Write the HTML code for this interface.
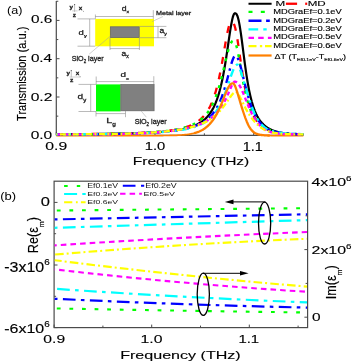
<!DOCTYPE html>
<html><head><meta charset="utf-8"><style>
html,body{margin:0;padding:0;background:#fff;width:352px;height:361px;overflow:hidden}
svg{display:block;filter:blur(0.35px);font-family:"Liberation Sans", sans-serif}
</style></head><body>
<svg width="352" height="361" viewBox="0 0 352 361">
<rect width="352" height="361" fill="#fff"/>
<line x1="56.30" y1="1.00" x2="56.30" y2="135.30" stroke="#4a4a4a" stroke-width="1.2" stroke-linecap="butt"/>
<line x1="56.30" y1="135.30" x2="303.30" y2="135.30" stroke="#4a4a4a" stroke-width="1.2" stroke-linecap="butt"/>
<line x1="56.30" y1="135.30" x2="59.50" y2="135.30" stroke="#4a4a4a" stroke-width="1" stroke-linecap="butt"/>
<line x1="56.30" y1="116.15" x2="58.30" y2="116.15" stroke="#4a4a4a" stroke-width="1" stroke-linecap="butt"/>
<line x1="56.30" y1="97.00" x2="59.50" y2="97.00" stroke="#4a4a4a" stroke-width="1" stroke-linecap="butt"/>
<line x1="56.30" y1="77.85" x2="58.30" y2="77.85" stroke="#4a4a4a" stroke-width="1" stroke-linecap="butt"/>
<line x1="56.30" y1="58.70" x2="59.50" y2="58.70" stroke="#4a4a4a" stroke-width="1" stroke-linecap="butt"/>
<line x1="56.30" y1="39.55" x2="58.30" y2="39.55" stroke="#4a4a4a" stroke-width="1" stroke-linecap="butt"/>
<line x1="56.30" y1="20.40" x2="59.50" y2="20.40" stroke="#4a4a4a" stroke-width="1" stroke-linecap="butt"/>
<line x1="56.30" y1="1.25" x2="58.30" y2="1.25" stroke="#4a4a4a" stroke-width="1" stroke-linecap="butt"/>
<line x1="56.30" y1="135.30" x2="56.30" y2="132.10" stroke="#4a4a4a" stroke-width="1" stroke-linecap="butt"/>
<line x1="105.65" y1="135.30" x2="105.65" y2="133.30" stroke="#4a4a4a" stroke-width="1" stroke-linecap="butt"/>
<line x1="155.00" y1="135.30" x2="155.00" y2="132.10" stroke="#4a4a4a" stroke-width="1" stroke-linecap="butt"/>
<line x1="204.35" y1="135.30" x2="204.35" y2="133.30" stroke="#4a4a4a" stroke-width="1" stroke-linecap="butt"/>
<line x1="253.70" y1="135.30" x2="253.70" y2="132.10" stroke="#4a4a4a" stroke-width="1" stroke-linecap="butt"/>
<line x1="303.05" y1="135.30" x2="303.05" y2="133.30" stroke="#4a4a4a" stroke-width="1" stroke-linecap="butt"/>
<rect x="95.20" y="18.90" width="58.80" height="27.40" fill="#ffff00"/>
<rect x="110.3" y="26.8" width="28.9" height="10.8" fill="#808080" stroke="#606068" stroke-width="0.7"/>
<line x1="95.20" y1="16.50" x2="153.40" y2="16.50" stroke="#8c8c8c" stroke-width="0.6" stroke-linecap="butt"/>
<line x1="95.40" y1="14.50" x2="95.40" y2="18.90" stroke="#8c8c8c" stroke-width="0.6" stroke-linecap="butt"/>
<line x1="153.30" y1="10.10" x2="153.30" y2="18.90" stroke="#8c8c8c" stroke-width="0.6" stroke-linecap="butt"/>
<line x1="89.70" y1="18.90" x2="89.70" y2="46.20" stroke="#8c8c8c" stroke-width="0.6" stroke-linecap="butt"/>
<line x1="77.50" y1="18.90" x2="95.20" y2="18.90" stroke="#8c8c8c" stroke-width="0.6" stroke-linecap="butt"/>
<line x1="77.50" y1="46.20" x2="95.20" y2="46.20" stroke="#8c8c8c" stroke-width="0.6" stroke-linecap="butt"/>
<line x1="139.40" y1="26.40" x2="166.40" y2="26.40" stroke="#8c8c8c" stroke-width="0.6" stroke-linecap="butt"/>
<line x1="139.40" y1="37.70" x2="166.40" y2="37.70" stroke="#8c8c8c" stroke-width="0.6" stroke-linecap="butt"/>
<line x1="158.00" y1="26.40" x2="158.00" y2="37.70" stroke="#8c8c8c" stroke-width="0.6" stroke-linecap="butt"/>
<line x1="110.00" y1="37.70" x2="110.00" y2="50.00" stroke="#8c8c8c" stroke-width="0.6" stroke-linecap="butt"/>
<line x1="139.40" y1="37.70" x2="139.40" y2="50.00" stroke="#8c8c8c" stroke-width="0.6" stroke-linecap="butt"/>
<line x1="110.00" y1="48.60" x2="139.40" y2="48.60" stroke="#8c8c8c" stroke-width="0.6" stroke-linecap="butt"/>
<line x1="163.00" y1="16.50" x2="152.00" y2="21.60" stroke="#a0a0a0" stroke-width="0.5" stroke-linecap="butt"/>
<line x1="89.20" y1="54.10" x2="110.50" y2="36.00" stroke="#a0a0a0" stroke-width="0.5" stroke-linecap="butt"/>
<rect x="96.00" y="84.40" width="24.60" height="27.00" fill="#00ff00"/>
<rect x="120.8" y="84.6" width="33.3" height="26.2" fill="#808080" stroke="#606060" stroke-width="0.7"/>
<line x1="96.00" y1="81.60" x2="154.00" y2="81.60" stroke="#8c8c8c" stroke-width="0.6" stroke-linecap="butt"/>
<line x1="96.20" y1="76.50" x2="96.20" y2="84.40" stroke="#8c8c8c" stroke-width="0.6" stroke-linecap="butt"/>
<line x1="153.80" y1="76.20" x2="153.80" y2="84.40" stroke="#8c8c8c" stroke-width="0.6" stroke-linecap="butt"/>
<line x1="90.70" y1="84.40" x2="90.70" y2="111.50" stroke="#8c8c8c" stroke-width="0.6" stroke-linecap="butt"/>
<line x1="78.50" y1="84.40" x2="96.00" y2="84.40" stroke="#8c8c8c" stroke-width="0.6" stroke-linecap="butt"/>
<line x1="78.50" y1="111.50" x2="96.00" y2="111.50" stroke="#8c8c8c" stroke-width="0.6" stroke-linecap="butt"/>
<line x1="96.00" y1="111.50" x2="96.00" y2="116.50" stroke="#8c8c8c" stroke-width="0.6" stroke-linecap="butt"/>
<line x1="96.00" y1="113.60" x2="125.50" y2="113.60" stroke="#8c8c8c" stroke-width="0.6" stroke-linecap="butt"/>
<line x1="125.50" y1="110.80" x2="125.50" y2="117.20" stroke="#8c8c8c" stroke-width="0.6" stroke-linecap="butt"/>
<line x1="141.00" y1="110.80" x2="146.40" y2="117.20" stroke="#a0a0a0" stroke-width="0.5" stroke-linecap="butt"/>
<text transform="translate(121.75,10.74) scale(0.0864,0.0636)" font-size="100" fill="#1e1e1e" stroke="#1e1e1e" stroke-width="4.00">d<tspan font-size="60" dy="34">x</tspan></text>
<text transform="translate(78.62,34.82) scale(0.0951,0.0647)" font-size="100" fill="#1e1e1e" stroke="#1e1e1e" stroke-width="3.76">d<tspan font-size="60" dy="34">y</tspan></text>
<text transform="translate(159.55,32.78) scale(0.0864,0.0700)" font-size="100" fill="#1e1e1e" stroke="#1e1e1e" stroke-width="3.84">a<tspan font-size="60" dy="34">y</tspan></text>
<text transform="translate(121.56,55.71) scale(0.0852,0.0761)" font-size="100" fill="#1e1e1e" stroke="#1e1e1e" stroke-width="3.72">a<tspan font-size="60" dy="34">x</tspan></text>
<text transform="translate(120.40,77.26) scale(0.0988,0.0687)" font-size="100" fill="#1e1e1e" stroke="#1e1e1e" stroke-width="3.58">d<tspan font-size="60" dy="34">x</tspan></text>
<text transform="translate(77.50,99.32) scale(0.1012,0.0756)" font-size="100" fill="#1e1e1e" stroke="#1e1e1e" stroke-width="3.39">d<tspan font-size="60" dy="34">y</tspan></text>
<text transform="translate(106.13,122.86) scale(0.1084,0.0791)" font-size="100" fill="#1e1e1e" stroke="#1e1e1e" stroke-width="3.20">L<tspan font-size="60" dy="34">g</tspan></text>
<text transform="translate(156.12,14.85) scale(0.0720,0.0596)" font-size="100" fill="#1e1e1e" stroke="#1e1e1e" stroke-width="4.56">Metal layer</text>
<text transform="translate(71.74,61.19) scale(0.0715,0.0724)" font-size="100" fill="#1e1e1e" stroke="#1e1e1e" stroke-width="4.17">SiO<tspan font-size="62" dy="25">2</tspan><tspan dy="-25"> layer</tspan></text>
<text transform="translate(134.64,124.16) scale(0.0718,0.0735)" font-size="100" fill="#1e1e1e" stroke="#1e1e1e" stroke-width="4.13">SiO<tspan font-size="62" dy="25">2</tspan><tspan dy="-25"> layer</tspan></text>
<line x1="74.60" y1="4.10" x2="74.60" y2="11.90" stroke="#b0b0b0" stroke-width="0.8" stroke-linecap="butt"/>
<line x1="72.20" y1="10.90" x2="77.60" y2="10.90" stroke="#b0b0b0" stroke-width="0.6" stroke-linecap="butt"/>
<line x1="71.25" y1="70.10" x2="71.25" y2="77.30" stroke="#b0b0b0" stroke-width="0.8" stroke-linecap="butt"/>
<line x1="69.50" y1="77.00" x2="80.40" y2="77.00" stroke="#b0b0b0" stroke-width="0.6" stroke-linecap="butt"/>
<circle cx="74.6" cy="4.6" r="0.6" fill="#555"/><circle cx="71.25" cy="70.6" r="0.6" fill="#555"/>
<circle cx="83.4" cy="11.2" r="0.45" fill="#555"/><circle cx="80.1" cy="76.8" r="0.45" fill="#555"/>
<text transform="translate(69.44,9.44) scale(0.0630,0.0554)" font-size="100" fill="#1e1e1e" stroke="#1e1e1e" stroke-width="5.07"><tspan font-weight="bold">y</tspan></text>
<text transform="translate(78.64,9.90) scale(0.0630,0.0585)" font-size="100" fill="#1e1e1e" stroke="#1e1e1e" stroke-width="4.94"><tspan font-weight="bold">x</tspan></text>
<text transform="translate(72.64,16.70) scale(0.0643,0.0509)" font-size="100" fill="#1e1e1e" stroke="#1e1e1e" stroke-width="5.21"><tspan font-weight="bold">z</tspan></text>
<text transform="translate(66.44,74.52) scale(0.0630,0.0514)" font-size="100" fill="#1e1e1e" stroke="#1e1e1e" stroke-width="5.25"><tspan font-weight="bold">y</tspan></text>
<text transform="translate(75.64,75.20) scale(0.0630,0.0509)" font-size="100" fill="#1e1e1e" stroke="#1e1e1e" stroke-width="5.27"><tspan font-weight="bold">x</tspan></text>
<text transform="translate(69.93,82.00) scale(0.0667,0.0566)" font-size="100" fill="#1e1e1e" stroke="#1e1e1e" stroke-width="4.87"><tspan font-weight="bold">z</tspan></text>
<path d="M56.3,135.7 L58.3,135.7 L60.3,135.7 L62.3,135.7 L64.3,135.7 L66.3,135.7 L68.3,135.7 L70.3,135.7 L72.3,135.7 L74.3,135.7 L76.3,135.7 L78.3,135.7 L80.3,135.7 L82.3,135.7 L84.3,135.7 L86.3,135.7 L88.3,135.7 L90.3,135.7 L92.3,135.7 L94.3,135.7 L96.3,135.7 L98.3,135.7 L100.3,135.7 L102.3,135.7 L104.3,135.7 L106.3,135.7 L108.3,135.7 L110.3,135.7 L112.3,135.7 L114.3,135.7 L116.3,135.7 L118.3,135.7 L120.3,135.7 L122.3,135.7 L124.3,135.7 L126.3,135.7 L128.3,135.7 L130.3,135.7 L132.3,135.7 L134.3,135.7 L136.3,135.7 L138.3,135.7 L140.3,135.7 L142.3,135.7 L144.3,135.7 L146.3,135.7 L148.3,135.7 L150.3,135.6 L152.3,135.6 L154.3,135.6 L156.3,135.6 L158.3,135.6 L160.3,135.6 L162.3,135.6 L164.3,135.5 L166.3,135.5 L168.3,135.5 L170.3,135.4 L172.3,135.4 L174.3,135.3 L176.3,135.3 L178.3,135.2 L180.3,135.1 L180.8,135.0 L181.3,135.0 L181.8,135.0 L182.3,134.9 L182.8,134.9 L183.3,134.9 L183.8,134.8 L184.3,134.8 L184.8,134.7 L185.3,134.7 L185.8,134.6 L186.3,134.6 L186.8,134.5 L187.3,134.5 L187.8,134.4 L188.3,134.3 L188.8,134.3 L189.3,134.2 L189.8,134.1 L190.3,134.0 L190.8,133.9 L191.3,133.8 L191.8,133.7 L192.3,133.6 L192.8,133.5 L193.3,133.4 L193.8,133.3 L194.3,133.2 L194.8,133.0 L195.3,132.9 L195.8,132.7" fill="none" stroke="#ff8000" stroke-width="1.7" stroke-linecap="butt" stroke-linejoin="round"/>
<path d="M268.3,135.5 L268.8,135.5 L269.3,135.5 L269.8,135.5 L270.3,135.5 L270.8,135.6 L271.3,135.6 L271.8,135.6 L272.3,135.6 L272.8,135.6 L273.3,135.6 L273.8,135.6 L274.3,135.6 L274.8,135.6 L275.3,135.6 L275.8,135.6 L276.3,135.6 L276.8,135.6 L277.3,135.6 L277.8,135.6 L278.3,135.6 L278.8,135.7 L279.3,135.7 L279.8,135.7 L280.3,135.7 L280.8,135.7 L281.3,135.7 L281.8,135.7 L282.3,135.7 L282.8,135.7 L283.3,135.7 L283.8,135.7 L284.3,135.7 L284.8,135.7 L285.3,135.7 L287.3,135.7 L289.3,135.7 L291.3,135.7 L293.3,135.7 L295.3,135.7 L297.3,135.7 L299.3,135.7 L301.3,135.7 L303.3,135.7" fill="none" stroke="#ff8000" stroke-width="1.7" stroke-linecap="butt" stroke-linejoin="round"/>
<path d="M56.3,134.3 L58.3,134.3 L60.3,134.3 L62.3,134.3 L64.3,134.2 L66.3,134.2 L68.3,134.2 L70.3,134.2 L72.3,134.2 L74.3,134.2 L76.3,134.2 L78.3,134.1 L80.3,134.1 L82.3,134.1 L84.3,134.1 L86.3,134.1 L88.3,134.0 L90.3,134.0 L92.3,134.0 L94.3,134.0 L96.3,134.0 L98.3,133.9 L100.3,133.9 L102.3,133.9 L104.3,133.9 L106.3,133.8 L108.3,133.8 L110.3,133.8 L112.3,133.7 L114.3,133.7 L116.3,133.7 L118.3,133.6 L120.3,133.6 L122.3,133.5 L124.3,133.5 L126.3,133.4 L128.3,133.4 L130.3,133.3 L132.3,133.3 L134.3,133.2 L136.3,133.2 L138.3,133.1 L140.3,133.0 L142.3,132.9 L144.3,132.9 L146.3,132.8 L148.3,132.7 L150.3,132.6 L152.3,132.5 L154.3,132.4 L156.3,132.2 L158.3,132.1 L160.3,132.0 L162.3,131.8 L164.3,131.6 L166.3,131.5 L168.3,131.3 L170.3,131.0 L172.3,130.8 L174.3,130.5 L176.3,130.3 L178.3,129.9 L180.3,129.6 L180.8,129.5 L181.3,129.4 L181.8,129.3 L182.3,129.2 L182.8,129.1 L183.3,129.0 L183.8,128.9 L184.3,128.8 L184.8,128.7 L185.3,128.6 L185.8,128.4 L186.3,128.3 L186.8,128.2 L187.3,128.1 L187.8,127.9 L188.3,127.8 L188.8,127.6 L189.3,127.5 L189.8,127.3 L190.3,127.2 L190.8,127.0 L191.3,126.9 L191.8,126.7 L192.3,126.5 L192.8,126.3 L193.3,126.1 L193.8,125.9 L194.3,125.7 L194.8,125.5 L195.3,125.3 L195.8,125.1 L196.3,124.9 L196.8,124.6 L197.3,124.4 L197.8,124.1 L198.3,123.8 L198.8,123.6 L199.3,123.3 L199.8,123.0 L200.3,122.7 L200.8,122.4 L201.3,122.0 L201.8,121.7 L202.3,121.3 L202.8,120.9 L203.3,120.6 L203.8,120.1 L204.3,119.7 L204.8,119.3 L205.3,118.8 L205.8,118.4 L206.3,117.9 L206.8,117.3 L207.3,116.8 L207.8,116.2 L208.3,115.6 L208.8,115.0 L209.3,114.4 L209.8,113.7 L210.3,113.0 L210.8,112.2 L211.3,111.5 L211.8,110.7 L212.3,109.8 L212.8,108.9 L213.3,108.0 L213.8,107.0 L214.3,105.9 L214.8,104.8 L215.3,103.7 L215.8,102.5 L216.3,101.2 L216.8,99.9 L217.3,98.5 L217.8,97.0 L218.3,95.4 L218.8,93.8 L219.3,92.1 L219.8,90.3 L220.3,88.3 L220.8,86.3 L221.3,84.2 L221.8,82.0 L222.3,79.7 L222.8,77.2 L223.3,74.7 L223.8,72.0 L224.3,69.2 L224.8,66.3 L225.3,63.3 L225.8,60.2 L226.3,57.0 L226.8,53.7 L227.3,50.4 L227.8,47.0 L228.3,43.5 L228.8,40.1 L229.3,36.7 L229.8,33.4 L230.3,30.1 L230.8,27.1 L231.3,24.2 L231.8,21.6 L232.3,19.2 L232.8,17.2 L233.3,15.6 L233.8,14.4 L234.3,13.6 L234.8,13.3 L235.3,13.3 L235.8,13.5 L236.3,13.9 L236.8,14.7 L237.3,15.7 L237.8,17.2 L238.3,19.0 L238.8,21.1 L239.3,23.6 L239.8,26.5 L240.3,29.6 L240.8,32.9 L241.3,36.5 L241.8,40.2 L242.3,44.0 L242.8,47.9 L243.3,51.8 L243.8,55.7 L244.3,59.5 L244.8,63.3 L245.3,66.9 L245.8,70.4 L246.3,73.8 L246.8,77.1 L247.3,80.2 L247.8,83.1 L248.3,85.9 L248.8,88.6 L249.3,91.1 L249.8,93.5 L250.3,95.7 L250.8,97.8 L251.3,99.8 L251.8,101.7 L252.3,103.4 L252.8,105.1 L253.3,106.7 L253.8,108.1 L254.3,109.5 L254.8,110.8 L255.3,112.0 L255.8,113.1 L256.3,114.2 L256.8,115.2 L257.3,116.2 L257.8,117.1 L258.3,118.0 L258.8,118.8 L259.3,119.5 L259.8,120.3 L260.3,121.0 L260.8,121.6 L261.3,122.2 L261.8,122.8 L262.3,123.3 L262.8,123.9 L263.3,124.4 L263.8,124.8 L264.3,125.3 L264.8,125.7 L265.3,126.1 L265.8,126.5 L266.3,126.9 L266.8,127.2 L267.3,127.6 L267.8,127.9 L268.3,128.2 L268.8,128.5 L269.3,128.8 L269.8,129.0 L270.3,129.3 L270.8,129.5 L271.3,129.8 L271.8,130.0 L272.3,130.2 L272.8,130.4 L273.3,130.6 L273.8,130.8 L274.3,131.0 L274.8,131.1 L275.3,131.3 L275.8,131.5 L276.3,131.6 L276.8,131.7 L277.3,131.9 L277.8,132.0 L278.3,132.1 L278.8,132.2 L279.3,132.4 L279.8,132.5 L280.3,132.6 L280.8,132.7 L281.3,132.8 L281.8,132.9 L282.3,132.9 L282.8,133.0 L283.3,133.1 L283.8,133.2 L284.3,133.2 L284.8,133.3 L285.3,133.4 L287.3,133.6 L289.3,133.8 L291.3,134.0 L293.3,134.1 L295.3,134.2 L297.3,134.3 L299.3,134.4 L301.3,134.5 L303.3,134.5" fill="none" stroke="#000000" stroke-width="2.2" stroke-linecap="butt" stroke-linejoin="round"/>
<path d="M56.3,134.4 L58.3,134.3 L60.3,134.3 L62.3,134.3 L64.3,134.3 L66.3,134.3 L68.3,134.3 L70.3,134.3 L72.3,134.2 L74.3,134.2 L76.3,134.2 L78.3,134.2 L80.3,134.2 L82.3,134.2 L84.3,134.1 L86.3,134.1 L88.3,134.1 L90.3,134.1 L92.3,134.0 L94.3,134.0 L96.3,134.0 L98.3,134.0 L100.3,133.9 L102.3,133.9 L104.3,133.9 L106.3,133.8 L108.3,133.8 L110.3,133.8 L112.3,133.7 L114.3,133.7 L116.3,133.6 L118.3,133.6 L120.3,133.6 L122.3,133.5 L124.3,133.4 L126.3,133.4 L128.3,133.3 L130.3,133.3 L132.3,133.2 L134.3,133.1 L136.3,133.1 L138.3,133.0 L140.3,132.9 L142.3,132.8 L144.3,132.7 L146.3,132.6 L148.3,132.5 L150.3,132.4 L152.3,132.3 L154.3,132.1 L156.3,132.0 L158.3,131.8 L160.3,131.6 L162.3,131.4 L164.3,131.2 L166.3,131.0 L168.3,130.8 L170.3,130.5 L172.3,130.2 L174.3,129.9 L176.3,129.5 L178.3,129.1 L180.3,128.7 L180.8,128.6 L181.3,128.5 L181.8,128.3 L182.3,128.2 L182.8,128.1 L183.3,128.0 L183.8,127.8 L184.3,127.7 L184.8,127.5 L185.3,127.4 L185.8,127.2 L186.3,127.1 L186.8,126.9 L187.3,126.7 L187.8,126.5 L188.3,126.4 L188.8,126.2 L189.3,126.0 L189.8,125.8 L190.3,125.6 L190.8,125.4 L191.3,125.1 L191.8,124.9 L192.3,124.7 L192.8,124.4 L193.3,124.2 L193.8,123.9 L194.3,123.7 L194.8,123.4 L195.3,123.1 L195.8,122.8 L196.3,122.5 L196.8,122.1 L197.3,121.8 L197.8,121.5 L198.3,121.1 L198.8,120.7 L199.3,120.3 L199.8,119.9 L200.3,119.5 L200.8,119.1 L201.3,118.6 L201.8,118.1 L202.3,117.6 L202.8,117.1 L203.3,116.6 L203.8,116.0 L204.3,115.4 L204.8,114.8 L205.3,114.2 L205.8,113.5 L206.3,112.8 L206.8,112.1 L207.3,111.3 L207.8,110.5 L208.3,109.7 L208.8,108.8 L209.3,107.9 L209.8,107.0 L210.3,106.0 L210.8,104.9 L211.3,103.8 L211.8,102.7 L212.3,101.5 L212.8,100.2 L213.3,98.9 L213.8,97.5 L214.3,96.0 L214.8,94.5 L215.3,92.9 L215.8,91.2 L216.3,89.4 L216.8,87.6 L217.3,85.6 L217.8,83.6 L218.3,81.5 L218.8,79.3 L219.3,77.0 L219.8,74.6 L220.3,72.2 L220.8,69.6 L221.3,67.0 L221.8,64.2 L222.3,61.4 L222.8,58.6 L223.3,55.7 L223.8,52.8 L224.3,49.8 L224.8,46.9 L225.3,44.0 L225.8,41.1 L226.3,38.3 L226.8,35.6 L227.3,33.1 L227.8,30.8 L228.3,28.6 L228.8,26.7 L229.3,25.1 L229.8,23.8 L230.3,22.8 L230.8,22.1 L231.3,21.8 L231.8,21.8 L232.3,21.9 L232.8,22.2 L233.3,22.8 L233.8,23.7 L234.3,24.9 L234.8,26.5 L235.3,28.3 L235.8,30.5 L236.3,32.9 L236.8,35.6 L237.3,38.6 L237.8,41.7 L238.3,45.0 L238.8,48.4 L239.3,51.9 L239.8,55.4 L240.3,58.9 L240.8,62.3 L241.3,65.8 L241.8,69.1 L242.3,72.3 L242.8,75.5 L243.3,78.5 L243.8,81.4 L244.3,84.2 L244.8,86.8 L245.3,89.3 L245.8,91.7 L246.3,94.0 L246.8,96.1 L247.3,98.1 L247.8,100.1 L248.3,101.9 L248.8,103.6 L249.3,105.2 L249.8,106.7 L250.3,108.1 L250.8,109.4 L251.3,110.7 L251.8,111.9 L252.3,113.0 L252.8,114.1 L253.3,115.1 L253.8,116.1 L254.3,117.0 L254.8,117.8 L255.3,118.6 L255.8,119.4 L256.3,120.1 L256.8,120.8 L257.3,121.5 L257.8,122.1 L258.3,122.7 L258.8,123.2 L259.3,123.8 L259.8,124.3 L260.3,124.7 L260.8,125.2 L261.3,125.6 L261.8,126.0 L262.3,126.4 L262.8,126.8 L263.3,127.2 L263.8,127.5 L264.3,127.9 L264.8,128.2 L265.3,128.5 L265.8,128.7 L266.3,129.0 L266.8,129.3 L267.3,129.5 L267.8,129.8 L268.3,130.0 L268.8,130.2 L269.3,130.4 L269.8,130.6 L270.3,130.8 L270.8,131.0 L271.3,131.2 L271.8,131.3 L272.3,131.5 L272.8,131.6 L273.3,131.8 L273.8,131.9 L274.3,132.1 L274.8,132.2 L275.3,132.3 L275.8,132.4 L276.3,132.5 L276.8,132.6 L277.3,132.7 L277.8,132.8 L278.3,132.9 L278.8,133.0 L279.3,133.1 L279.8,133.2 L280.3,133.3 L280.8,133.3 L281.3,133.4 L281.8,133.5 L282.3,133.5 L282.8,133.6 L283.3,133.7 L283.8,133.7 L284.3,133.8 L284.8,133.8 L285.3,133.9 L287.3,134.0 L289.3,134.2 L291.3,134.3 L293.3,134.4 L295.3,134.5 L297.3,134.5 L299.3,134.6 L301.3,134.6 L303.3,134.7" fill="none" stroke="#ff0000" stroke-width="2.3" stroke-dasharray="7,8.7" stroke-dashoffset="12.46" stroke-linejoin="round"/>
<path d="M56.3,134.4 L58.3,134.4 L60.3,134.4 L62.3,134.4 L64.3,134.4 L66.3,134.4 L68.3,134.4 L70.3,134.4 L72.3,134.4 L74.3,134.3 L76.3,134.3 L78.3,134.3 L80.3,134.3 L82.3,134.3 L84.3,134.3 L86.3,134.3 L88.3,134.3 L90.3,134.2 L92.3,134.2 L94.3,134.2 L96.3,134.2 L98.3,134.2 L100.3,134.1 L102.3,134.1 L104.3,134.1 L106.3,134.0 L108.3,134.0 L110.3,134.0 L112.3,133.9 L114.3,133.9 L116.3,133.9 L118.3,133.8 L120.3,133.8 L122.3,133.7 L124.3,133.7 L126.3,133.6 L128.3,133.5 L130.3,133.5 L132.3,133.4 L134.3,133.3 L136.3,133.2 L138.3,133.1 L140.3,133.1 L142.3,133.0 L144.3,132.8 L146.3,132.7 L148.3,132.6 L150.3,132.5 L152.3,132.3 L154.3,132.2 L156.3,132.0 L158.3,131.8 L160.3,131.7 L162.3,131.5 L164.3,131.2 L166.3,131.0 L168.3,130.8 L170.3,130.5 L172.3,130.2 L174.3,129.8 L176.3,129.5 L178.3,129.1 L180.3,128.7 L180.8,128.5 L181.3,128.4 L181.8,128.3 L182.3,128.2 L182.8,128.0 L183.3,127.9 L183.8,127.8 L184.3,127.6 L184.8,127.5 L185.3,127.3 L185.8,127.2 L186.3,127.0 L186.8,126.9 L187.3,126.7 L187.8,126.5 L188.3,126.4 L188.8,126.2 L189.3,126.0 L189.8,125.8 L190.3,125.6 L190.8,125.4 L191.3,125.2 L191.8,125.0 L192.3,124.8 L192.8,124.6 L193.3,124.3 L193.8,124.1 L194.3,123.8 L194.8,123.6 L195.3,123.3 L195.8,123.0 L196.3,122.7 L196.8,122.4 L197.3,122.1 L197.8,121.8 L198.3,121.5 L198.8,121.2 L199.3,120.8 L199.8,120.4 L200.3,120.1 L200.8,119.7 L201.3,119.3 L201.8,118.8 L202.3,118.4 L202.8,117.9 L203.3,117.5 L203.8,117.0 L204.3,116.5 L204.8,115.9 L205.3,115.4 L205.8,114.8 L206.3,114.2 L206.8,113.6 L207.3,113.0 L207.8,112.3 L208.3,111.6 L208.8,110.9 L209.3,110.1 L209.8,109.3 L210.3,108.5 L210.8,107.6 L211.3,106.7 L211.8,105.8 L212.3,104.8 L212.8,103.8 L213.3,102.8 L213.8,101.7 L214.3,100.5 L214.8,99.3 L215.3,98.1 L215.8,96.8 L216.3,95.4 L216.8,94.0 L217.3,92.6 L217.8,91.0 L218.3,89.5 L218.8,87.8 L219.3,86.2 L219.8,84.4 L220.3,82.6 L220.8,80.7 L221.3,78.8 L221.8,76.9 L222.3,74.9 L222.8,72.8 L223.3,70.7 L223.8,68.6 L224.3,66.5 L224.8,64.4 L225.3,62.3 L225.8,60.1 L226.3,58.0 L226.8,56.0 L227.3,54.0 L227.8,52.1 L228.3,50.3 L228.8,48.6 L229.3,47.0 L229.8,45.6 L230.3,44.3 L230.8,43.3 L231.3,42.4 L231.8,41.7 L232.3,41.2 L232.8,40.9 L233.3,40.8 L233.8,40.9 L234.3,41.2 L234.8,41.8 L235.3,42.8 L235.8,44.0 L236.3,45.6 L236.8,47.4 L237.3,49.5 L237.8,51.9 L238.3,54.4 L238.8,57.1 L239.3,59.9 L239.8,62.8 L240.3,65.7 L240.8,68.7 L241.3,71.6 L241.8,74.5 L242.3,77.3 L242.8,80.1 L243.3,82.7 L243.8,85.3 L244.3,87.8 L244.8,90.1 L245.3,92.4 L245.8,94.5 L246.3,96.5 L246.8,98.4 L247.3,100.3 L247.8,102.0 L248.3,103.6 L248.8,105.1 L249.3,106.6 L249.8,108.0 L250.3,109.2 L250.8,110.5 L251.3,111.6 L251.8,112.7 L252.3,113.7 L252.8,114.7 L253.3,115.6 L253.8,116.5 L254.3,117.3 L254.8,118.1 L255.3,118.8 L255.8,119.5 L256.3,120.2 L256.8,120.8 L257.3,121.4 L257.8,121.9 L258.3,122.5 L258.8,123.0 L259.3,123.5 L259.8,124.0 L260.3,124.4 L260.8,124.8 L261.3,125.2 L261.8,125.6 L262.3,126.0 L262.8,126.3 L263.3,126.7 L263.8,127.0 L264.3,127.3 L264.8,127.6 L265.3,127.9 L265.8,128.1 L266.3,128.4 L266.8,128.6 L267.3,128.9 L267.8,129.1 L268.3,129.3 L268.8,129.5 L269.3,129.7 L269.8,129.9 L270.3,130.1 L270.8,130.3 L271.3,130.5 L271.8,130.6 L272.3,130.8 L272.8,131.0 L273.3,131.1 L273.8,131.2 L274.3,131.4 L274.8,131.5 L275.3,131.6 L275.8,131.7 L276.3,131.9 L276.8,132.0 L277.3,132.1 L277.8,132.2 L278.3,132.3 L278.8,132.4 L279.3,132.5 L279.8,132.5 L280.3,132.6 L280.8,132.7 L281.3,132.8 L281.8,132.8 L282.3,132.9 L282.8,133.0 L283.3,133.0 L283.8,133.1 L284.3,133.2 L284.8,133.2 L285.3,133.3 L287.3,133.5 L289.3,133.6 L291.3,133.8 L293.3,133.9 L295.3,134.0 L297.3,134.1 L299.3,134.1 L301.3,134.2 L303.3,134.2" fill="none" stroke="#00ff00" stroke-width="2.4" stroke-dasharray="3,6.3" stroke-dashoffset="2.24" stroke-linejoin="round"/>
<path d="M56.3,134.4 L58.3,134.4 L60.3,134.4 L62.3,134.4 L64.3,134.4 L66.3,134.4 L68.3,134.4 L70.3,134.4 L72.3,134.4 L74.3,134.4 L76.3,134.4 L78.3,134.3 L80.3,134.3 L82.3,134.3 L84.3,134.3 L86.3,134.3 L88.3,134.3 L90.3,134.3 L92.3,134.3 L94.3,134.2 L96.3,134.2 L98.3,134.2 L100.3,134.2 L102.3,134.2 L104.3,134.1 L106.3,134.1 L108.3,134.1 L110.3,134.0 L112.3,134.0 L114.3,134.0 L116.3,133.9 L118.3,133.9 L120.3,133.9 L122.3,133.8 L124.3,133.8 L126.3,133.7 L128.3,133.7 L130.3,133.6 L132.3,133.5 L134.3,133.5 L136.3,133.4 L138.3,133.3 L140.3,133.2 L142.3,133.1 L144.3,133.0 L146.3,132.9 L148.3,132.8 L150.3,132.7 L152.3,132.6 L154.3,132.4 L156.3,132.3 L158.3,132.2 L160.3,132.0 L162.3,131.8 L164.3,131.6 L166.3,131.5 L168.3,131.2 L170.3,131.0 L172.3,130.8 L174.3,130.5 L176.3,130.2 L178.3,129.9 L180.3,129.6 L180.8,129.5 L181.3,129.4 L181.8,129.3 L182.3,129.2 L182.8,129.2 L183.3,129.1 L183.8,129.0 L184.3,128.9 L184.8,128.8 L185.3,128.6 L185.8,128.5 L186.3,128.4 L186.8,128.3 L187.3,128.2 L187.8,128.1 L188.3,127.9 L188.8,127.8 L189.3,127.7 L189.8,127.6 L190.3,127.4 L190.8,127.3 L191.3,127.1 L191.8,127.0 L192.3,126.8 L192.8,126.7 L193.3,126.5 L193.8,126.4 L194.3,126.2 L194.8,126.0 L195.3,125.8 L195.8,125.7 L196.3,125.5 L196.8,125.3 L197.3,125.1 L197.8,124.9 L198.3,124.6 L198.8,124.4 L199.3,124.2 L199.8,124.0 L200.3,123.7 L200.8,123.5 L201.3,123.2 L201.8,122.9 L202.3,122.7 L202.8,122.4 L203.3,122.1 L203.8,121.8 L204.3,121.4 L204.8,121.1 L205.3,120.8 L205.8,120.4 L206.3,120.0 L206.8,119.7 L207.3,119.3 L207.8,118.9 L208.3,118.4 L208.8,118.0 L209.3,117.5 L209.8,117.1 L210.3,116.6 L210.8,116.0 L211.3,115.5 L211.8,114.9 L212.3,114.4 L212.8,113.7 L213.3,113.1 L213.8,112.4 L214.3,111.8 L214.8,111.0 L215.3,110.3 L215.8,109.5 L216.3,108.7 L216.8,107.8 L217.3,107.0 L217.8,106.0 L218.3,105.1 L218.8,104.0 L219.3,103.0 L219.8,101.9 L220.3,100.7 L220.8,99.5 L221.3,98.3 L221.8,97.0 L222.3,95.6 L222.8,94.2 L223.3,92.8 L223.8,91.3 L224.3,89.7 L224.8,88.0 L225.3,86.4 L225.8,84.6 L226.3,82.9 L226.8,81.0 L227.3,79.2 L227.8,77.3 L228.3,75.4 L228.8,73.4 L229.3,71.5 L229.8,69.6 L230.3,67.7 L230.8,65.9 L231.3,64.1 L231.8,62.4 L232.3,60.9 L232.8,59.5 L233.3,58.3 L233.8,57.2 L234.3,56.4 L234.8,55.9 L235.3,55.7 L235.8,55.8 L236.3,56.1 L236.8,56.7 L237.3,57.4 L237.8,58.3 L238.3,59.4 L238.8,60.7 L239.3,62.2 L239.8,63.8 L240.3,65.5 L240.8,67.4 L241.3,69.3 L241.8,71.3 L242.3,73.3 L242.8,75.4 L243.3,77.5 L243.8,79.6 L244.3,81.7 L244.8,83.8 L245.3,85.8 L245.8,87.8 L246.3,89.7 L246.8,91.7 L247.3,93.5 L247.8,95.3 L248.3,97.0 L248.8,98.7 L249.3,100.3 L249.8,101.9 L250.3,103.4 L250.8,104.9 L251.3,106.2 L251.8,107.6 L252.3,108.8 L252.8,110.1 L253.3,111.2 L253.8,112.3 L254.3,113.4 L254.8,114.4 L255.3,115.4 L255.8,116.3 L256.3,117.2 L256.8,118.1 L257.3,118.9 L257.8,119.6 L258.3,120.4 L258.8,121.0 L259.3,121.7 L259.8,122.3 L260.3,122.9 L260.8,123.5 L261.3,124.0 L261.8,124.6 L262.3,125.1 L262.8,125.5 L263.3,126.0 L263.8,126.4 L264.3,126.8 L264.8,127.2 L265.3,127.5 L265.8,127.9 L266.3,128.2 L266.8,128.5 L267.3,128.8 L267.8,129.1 L268.3,129.3 L268.8,129.6 L269.3,129.8 L269.8,130.0 L270.3,130.3 L270.8,130.5 L271.3,130.6 L271.8,130.8 L272.3,131.0 L272.8,131.2 L273.3,131.3 L273.8,131.5 L274.3,131.6 L274.8,131.7 L275.3,131.9 L275.8,132.0 L276.3,132.1 L276.8,132.2 L277.3,132.3 L277.8,132.4 L278.3,132.5 L278.8,132.6 L279.3,132.7 L279.8,132.8 L280.3,132.8 L280.8,132.9 L281.3,133.0 L281.8,133.0 L282.3,133.1 L282.8,133.2 L283.3,133.2 L283.8,133.3 L284.3,133.3 L284.8,133.4 L285.3,133.4 L287.3,133.6 L289.3,133.7 L291.3,133.8 L293.3,133.9 L295.3,134.0 L297.3,134.1 L299.3,134.1 L301.3,134.2 L303.3,134.2" fill="none" stroke="#0000ff" stroke-width="2.4" stroke-dasharray="8,4.6,2.5,4.6" stroke-dashoffset="1.82" stroke-linejoin="round"/>
<path d="M56.3,134.4 L58.3,134.4 L60.3,134.4 L62.3,134.4 L64.3,134.4 L66.3,134.4 L68.3,134.4 L70.3,134.3 L72.3,134.3 L74.3,134.3 L76.3,134.3 L78.3,134.3 L80.3,134.3 L82.3,134.3 L84.3,134.3 L86.3,134.3 L88.3,134.2 L90.3,134.2 L92.3,134.2 L94.3,134.2 L96.3,134.2 L98.3,134.1 L100.3,134.1 L102.3,134.1 L104.3,134.1 L106.3,134.0 L108.3,134.0 L110.3,134.0 L112.3,134.0 L114.3,133.9 L116.3,133.9 L118.3,133.8 L120.3,133.8 L122.3,133.8 L124.3,133.7 L126.3,133.7 L128.3,133.6 L130.3,133.6 L132.3,133.5 L134.3,133.4 L136.3,133.4 L138.3,133.3 L140.3,133.2 L142.3,133.1 L144.3,133.1 L146.3,133.0 L148.3,132.9 L150.3,132.8 L152.3,132.7 L154.3,132.6 L156.3,132.4 L158.3,132.3 L160.3,132.2 L162.3,132.0 L164.3,131.9 L166.3,131.7 L168.3,131.5 L170.3,131.3 L172.3,131.1 L174.3,130.9 L176.3,130.6 L178.3,130.4 L180.3,130.1 L180.8,130.0 L181.3,129.9 L181.8,129.8 L182.3,129.8 L182.8,129.7 L183.3,129.6 L183.8,129.5 L184.3,129.4 L184.8,129.3 L185.3,129.2 L185.8,129.1 L186.3,129.0 L186.8,128.9 L187.3,128.8 L187.8,128.7 L188.3,128.6 L188.8,128.5 L189.3,128.4 L189.8,128.2 L190.3,128.1 L190.8,128.0 L191.3,127.9 L191.8,127.7 L192.3,127.6 L192.8,127.4 L193.3,127.3 L193.8,127.1 L194.3,127.0 L194.8,126.8 L195.3,126.7 L195.8,126.5 L196.3,126.3 L196.8,126.1 L197.3,126.0 L197.8,125.8 L198.3,125.6 L198.8,125.4 L199.3,125.2 L199.8,124.9 L200.3,124.7 L200.8,124.5 L201.3,124.2 L201.8,124.0 L202.3,123.7 L202.8,123.5 L203.3,123.2 L203.8,122.9 L204.3,122.6 L204.8,122.3 L205.3,122.0 L205.8,121.7 L206.3,121.4 L206.8,121.0 L207.3,120.7 L207.8,120.3 L208.3,119.9 L208.8,119.5 L209.3,119.1 L209.8,118.7 L210.3,118.2 L210.8,117.8 L211.3,117.3 L211.8,116.8 L212.3,116.2 L212.8,115.7 L213.3,115.1 L213.8,114.6 L214.3,114.0 L214.8,113.3 L215.3,112.7 L215.8,112.0 L216.3,111.3 L216.8,110.5 L217.3,109.8 L217.8,109.0 L218.3,108.1 L218.8,107.3 L219.3,106.4 L219.8,105.5 L220.3,104.5 L220.8,103.5 L221.3,102.4 L221.8,101.4 L222.3,100.3 L222.8,99.1 L223.3,97.9 L223.8,96.7 L224.3,95.4 L224.8,94.1 L225.3,92.8 L225.8,91.4 L226.3,90.0 L226.8,88.5 L227.3,87.1 L227.8,85.6 L228.3,84.1 L228.8,82.6 L229.3,81.1 L229.8,79.6 L230.3,78.1 L230.8,76.6 L231.3,75.1 L231.8,73.7 L232.3,72.4 L232.8,71.1 L233.3,69.9 L233.8,68.8 L234.3,67.9 L234.8,67.0 L235.3,66.2 L235.8,65.6 L236.3,65.1 L236.8,64.8 L237.3,64.7 L237.8,64.9 L238.3,65.6 L238.8,66.5 L239.3,67.6 L239.8,68.9 L240.3,70.2 L240.8,71.7 L241.3,73.2 L241.8,74.7 L242.3,76.3 L242.8,77.9 L243.3,79.6 L243.8,81.3 L244.3,82.9 L244.8,84.6 L245.3,86.3 L245.8,88.0 L246.3,89.7 L246.8,91.4 L247.3,93.1 L247.8,94.7 L248.3,96.3 L248.8,97.9 L249.3,99.5 L249.8,101.0 L250.3,102.5 L250.8,104.0 L251.3,105.4 L251.8,106.8 L252.3,108.1 L252.8,109.4 L253.3,110.6 L253.8,111.8 L254.3,113.0 L254.8,114.1 L255.3,115.1 L255.8,116.1 L256.3,117.1 L256.8,118.0 L257.3,118.8 L257.8,119.7 L258.3,120.4 L258.8,121.2 L259.3,121.9 L259.8,122.5 L260.3,123.2 L260.8,123.8 L261.3,124.3 L261.8,124.8 L262.3,125.3 L262.8,125.8 L263.3,126.3 L263.8,126.7 L264.3,127.1 L264.8,127.5 L265.3,127.8 L265.8,128.1 L266.3,128.5 L266.8,128.8 L267.3,129.0 L267.8,129.3 L268.3,129.6 L268.8,129.8 L269.3,130.0 L269.8,130.2 L270.3,130.4 L270.8,130.6 L271.3,130.8 L271.8,131.0 L272.3,131.1 L272.8,131.3 L273.3,131.4 L273.8,131.6 L274.3,131.7 L274.8,131.8 L275.3,131.9 L275.8,132.0 L276.3,132.1 L276.8,132.2 L277.3,132.3 L277.8,132.4 L278.3,132.5 L278.8,132.6 L279.3,132.7 L279.8,132.7 L280.3,132.8 L280.8,132.9 L281.3,132.9 L281.8,133.0 L282.3,133.1 L282.8,133.1 L283.3,133.2 L283.8,133.2 L284.3,133.3 L284.8,133.3 L285.3,133.3 L287.3,133.5 L289.3,133.6 L291.3,133.7 L293.3,133.8 L295.3,133.9 L297.3,134.0 L299.3,134.0 L301.3,134.1 L303.3,134.1" fill="none" stroke="#00ffff" stroke-width="2.4" stroke-dasharray="8,4.6,2.5,4.6" stroke-dashoffset="12.88" stroke-linejoin="round"/>
<path d="M56.3,134.4 L58.3,134.4 L60.3,134.4 L62.3,134.4 L64.3,134.4 L66.3,134.4 L68.3,134.4 L70.3,134.4 L72.3,134.4 L74.3,134.4 L76.3,134.4 L78.3,134.4 L80.3,134.4 L82.3,134.4 L84.3,134.4 L86.3,134.3 L88.3,134.3 L90.3,134.3 L92.3,134.3 L94.3,134.3 L96.3,134.3 L98.3,134.3 L100.3,134.3 L102.3,134.2 L104.3,134.2 L106.3,134.2 L108.3,134.2 L110.3,134.1 L112.3,134.1 L114.3,134.1 L116.3,134.1 L118.3,134.0 L120.3,134.0 L122.3,134.0 L124.3,133.9 L126.3,133.9 L128.3,133.8 L130.3,133.8 L132.3,133.7 L134.3,133.6 L136.3,133.6 L138.3,133.5 L140.3,133.4 L142.3,133.3 L144.3,133.2 L146.3,133.1 L148.3,133.0 L150.3,132.9 L152.3,132.8 L154.3,132.6 L156.3,132.5 L158.3,132.3 L160.3,132.1 L162.3,131.9 L164.3,131.7 L166.3,131.5 L168.3,131.3 L170.3,131.0 L172.3,130.8 L174.3,130.5 L176.3,130.2 L178.3,129.8 L180.3,129.5 L180.8,129.4 L181.3,129.3 L181.8,129.2 L182.3,129.1 L182.8,129.0 L183.3,128.9 L183.8,128.8 L184.3,128.7 L184.8,128.6 L185.3,128.5 L185.8,128.4 L186.3,128.3 L186.8,128.1 L187.3,128.0 L187.8,127.9 L188.3,127.8 L188.8,127.7 L189.3,127.5 L189.8,127.4 L190.3,127.3 L190.8,127.1 L191.3,127.0 L191.8,126.9 L192.3,126.7 L192.8,126.6 L193.3,126.4 L193.8,126.3 L194.3,126.1 L194.8,126.0 L195.3,125.8 L195.8,125.6 L196.3,125.5 L196.8,125.3 L197.3,125.1 L197.8,124.9 L198.3,124.8 L198.8,124.6 L199.3,124.4 L199.8,124.2 L200.3,124.0 L200.8,123.8 L201.3,123.6 L201.8,123.3 L202.3,123.1 L202.8,122.9 L203.3,122.7 L203.8,122.4 L204.3,122.2 L204.8,121.9 L205.3,121.6 L205.8,121.4 L206.3,121.1 L206.8,120.8 L207.3,120.5 L207.8,120.2 L208.3,119.9 L208.8,119.6 L209.3,119.2 L209.8,118.9 L210.3,118.6 L210.8,118.2 L211.3,117.8 L211.8,117.4 L212.3,117.0 L212.8,116.6 L213.3,116.2 L213.8,115.7 L214.3,115.3 L214.8,114.8 L215.3,114.3 L215.8,113.8 L216.3,113.3 L216.8,112.7 L217.3,112.2 L217.8,111.6 L218.3,111.0 L218.8,110.4 L219.3,109.7 L219.8,109.0 L220.3,108.3 L220.8,107.6 L221.3,106.9 L221.8,106.1 L222.3,105.3 L222.8,104.5 L223.3,103.6 L223.8,102.7 L224.3,101.8 L224.8,100.9 L225.3,99.9 L225.8,98.9 L226.3,97.8 L226.8,96.8 L227.3,95.7 L227.8,94.6 L228.3,93.5 L228.8,92.3 L229.3,91.2 L229.8,90.0 L230.3,88.8 L230.8,87.7 L231.3,86.6 L231.8,85.5 L232.3,84.5 L232.8,83.6 L233.3,82.8 L233.8,82.1 L234.3,81.7 L234.8,81.8 L235.3,81.8 L235.8,81.9 L236.3,82.2 L236.8,82.4 L237.3,82.8 L237.8,83.3 L238.3,83.8 L238.8,84.5 L239.3,85.2 L239.8,86.0 L240.3,86.9 L240.8,87.8 L241.3,88.8 L241.8,89.9 L242.3,91.0 L242.8,92.2 L243.3,93.4 L243.8,94.6 L244.3,95.8 L244.8,97.1 L245.3,98.4 L245.8,99.6 L246.3,100.9 L246.8,102.1 L247.3,103.4 L247.8,104.6 L248.3,105.8 L248.8,107.0 L249.3,108.1 L249.8,109.2 L250.3,110.3 L250.8,111.4 L251.3,112.4 L251.8,113.5 L252.3,114.4 L252.8,115.4 L253.3,116.3 L253.8,117.2 L254.3,118.0 L254.8,118.8 L255.3,119.6 L255.8,120.4 L256.3,121.1 L256.8,121.8 L257.3,122.5 L257.8,123.1 L258.3,123.7 L258.8,124.3 L259.3,124.9 L259.8,125.4 L260.3,125.9 L260.8,126.4 L261.3,126.8 L261.8,127.3 L262.3,127.7 L262.8,128.1 L263.3,128.5 L263.8,128.8 L264.3,129.1 L264.8,129.5 L265.3,129.8 L265.8,130.0 L266.3,130.3 L266.8,130.6 L267.3,130.8 L267.8,131.0 L268.3,131.2 L268.8,131.4 L269.3,131.6 L269.8,131.8 L270.3,131.9 L270.8,132.1 L271.3,132.2 L271.8,132.4 L272.3,132.5 L272.8,132.6 L273.3,132.7 L273.8,132.8 L274.3,132.9 L274.8,133.0 L275.3,133.1 L275.8,133.2 L276.3,133.3 L276.8,133.3 L277.3,133.4 L277.8,133.5 L278.3,133.5 L278.8,133.6 L279.3,133.6 L279.8,133.7 L280.3,133.7 L280.8,133.8 L281.3,133.8 L281.8,133.8 L282.3,133.9 L282.8,133.9 L283.3,133.9 L283.8,134.0 L284.3,134.0 L284.8,134.0 L285.3,134.1 L287.3,134.1 L289.3,134.2 L291.3,134.3 L293.3,134.3 L295.3,134.3 L297.3,134.4 L299.3,134.4 L301.3,134.4 L303.3,134.4" fill="none" stroke="#ff00ff" stroke-width="2.4" stroke-dasharray="4,3.1" stroke-dashoffset="5.99" stroke-linejoin="round"/>
<path d="M56.3,134.4 L58.3,134.4 L60.3,134.4 L62.3,134.4 L64.3,134.4 L66.3,134.4 L68.3,134.3 L70.3,134.3 L72.3,134.3 L74.3,134.3 L76.3,134.3 L78.3,134.3 L80.3,134.3 L82.3,134.3 L84.3,134.3 L86.3,134.2 L88.3,134.2 L90.3,134.2 L92.3,134.2 L94.3,134.2 L96.3,134.2 L98.3,134.1 L100.3,134.1 L102.3,134.1 L104.3,134.1 L106.3,134.0 L108.3,134.0 L110.3,134.0 L112.3,134.0 L114.3,133.9 L116.3,133.9 L118.3,133.8 L120.3,133.8 L122.3,133.8 L124.3,133.7 L126.3,133.7 L128.3,133.6 L130.3,133.5 L132.3,133.5 L134.3,133.4 L136.3,133.3 L138.3,133.3 L140.3,133.2 L142.3,133.1 L144.3,133.0 L146.3,132.9 L148.3,132.8 L150.3,132.6 L152.3,132.5 L154.3,132.4 L156.3,132.2 L158.3,132.1 L160.3,131.9 L162.3,131.7 L164.3,131.6 L166.3,131.4 L168.3,131.1 L170.3,130.9 L172.3,130.7 L174.3,130.4 L176.3,130.1 L178.3,129.8 L180.3,129.5 L180.8,129.4 L181.3,129.3 L181.8,129.2 L182.3,129.2 L182.8,129.1 L183.3,129.0 L183.8,128.9 L184.3,128.8 L184.8,128.7 L185.3,128.6 L185.8,128.5 L186.3,128.4 L186.8,128.3 L187.3,128.2 L187.8,128.0 L188.3,127.9 L188.8,127.8 L189.3,127.7 L189.8,127.6 L190.3,127.5 L190.8,127.3 L191.3,127.2 L191.8,127.1 L192.3,126.9 L192.8,126.8 L193.3,126.7 L193.8,126.5 L194.3,126.4 L194.8,126.2 L195.3,126.1 L195.8,125.9 L196.3,125.8 L196.8,125.6 L197.3,125.4 L197.8,125.3 L198.3,125.1 L198.8,124.9 L199.3,124.7 L199.8,124.5 L200.3,124.4 L200.8,124.2 L201.3,124.0 L201.8,123.7 L202.3,123.5 L202.8,123.3 L203.3,123.1 L203.8,122.9 L204.3,122.6 L204.8,122.4 L205.3,122.1 L205.8,121.9 L206.3,121.6 L206.8,121.4 L207.3,121.1 L207.8,120.8 L208.3,120.5 L208.8,120.2 L209.3,119.9 L209.8,119.6 L210.3,119.3 L210.8,118.9 L211.3,118.6 L211.8,118.2 L212.3,117.9 L212.8,117.5 L213.3,117.1 L213.8,116.7 L214.3,116.3 L214.8,115.9 L215.3,115.5 L215.8,115.0 L216.3,114.6 L216.8,114.1 L217.3,113.7 L217.8,113.2 L218.3,112.7 L218.8,112.1 L219.3,111.6 L219.8,111.1 L220.3,110.5 L220.8,109.9 L221.3,109.3 L221.8,108.7 L222.3,108.1 L222.8,107.5 L223.3,106.8 L223.8,106.2 L224.3,105.5 L224.8,104.8 L225.3,104.1 L225.8,103.4 L226.3,102.7 L226.8,102.0 L227.3,101.3 L227.8,100.6 L228.3,99.8 L228.8,99.1 L229.3,98.4 L229.8,97.7 L230.3,97.0 L230.8,96.3 L231.3,95.6 L231.8,95.0 L232.3,94.4 L232.8,93.8 L233.3,93.3 L233.8,92.9 L234.3,92.5 L234.8,92.1 L235.3,91.9 L235.8,91.8 L236.3,92.0 L236.8,92.3 L237.3,92.8 L237.8,93.5 L238.3,94.2 L238.8,95.0 L239.3,95.8 L239.8,96.8 L240.3,97.7 L240.8,98.7 L241.3,99.7 L241.8,100.8 L242.3,101.8 L242.8,102.8 L243.3,103.8 L243.8,104.8 L244.3,105.8 L244.8,106.8 L245.3,107.8 L245.8,108.7 L246.3,109.6 L246.8,110.5 L247.3,111.4 L247.8,112.2 L248.3,113.1 L248.8,113.9 L249.3,114.6 L249.8,115.4 L250.3,116.1 L250.8,116.8 L251.3,117.5 L251.8,118.2 L252.3,118.9 L252.8,119.5 L253.3,120.1 L253.8,120.7 L254.3,121.3 L254.8,121.9 L255.3,122.4 L255.8,122.9 L256.3,123.5 L256.8,124.0 L257.3,124.4 L257.8,124.9 L258.3,125.3 L258.8,125.8 L259.3,126.2 L259.8,126.6 L260.3,127.0 L260.8,127.4 L261.3,127.7 L261.8,128.1 L262.3,128.4 L262.8,128.7 L263.3,129.0 L263.8,129.3 L264.3,129.6 L264.8,129.8 L265.3,130.1 L265.8,130.3 L266.3,130.5 L266.8,130.7 L267.3,130.9 L267.8,131.1 L268.3,131.3 L268.8,131.5 L269.3,131.7 L269.8,131.8 L270.3,132.0 L270.8,132.1 L271.3,132.2 L271.8,132.3 L272.3,132.5 L272.8,132.6 L273.3,132.7 L273.8,132.8 L274.3,132.9 L274.8,133.0 L275.3,133.0 L275.8,133.1 L276.3,133.2 L276.8,133.3 L277.3,133.3 L277.8,133.4 L278.3,133.4 L278.8,133.5 L279.3,133.5 L279.8,133.6 L280.3,133.6 L280.8,133.7 L281.3,133.7 L281.8,133.8 L282.3,133.8 L282.8,133.8 L283.3,133.9 L283.8,133.9 L284.3,133.9 L284.8,134.0 L285.3,134.0 L287.3,134.1 L289.3,134.1 L291.3,134.2 L293.3,134.3 L295.3,134.3 L297.3,134.3 L299.3,134.4 L301.3,134.4 L303.3,134.4" fill="none" stroke="#ffff00" stroke-width="2.3" stroke-dasharray="6,2.6,1.8,2.6" stroke-dashoffset="9.41" stroke-linejoin="round"/>
<path d="M194.3,133.2 L194.8,133.0 L195.3,132.9 L195.8,132.7 L196.3,132.6 L196.8,132.4 L197.3,132.2 L197.8,132.1 L198.3,131.9 L198.8,131.7 L199.3,131.5 L199.8,131.2 L200.3,131.0 L200.8,130.8 L201.3,130.5 L201.8,130.2 L202.3,130.0 L202.8,129.7 L203.3,129.4 L203.8,129.1 L204.3,128.7 L204.8,128.4 L205.3,128.0 L205.8,127.6 L206.3,127.2 L206.8,126.8 L207.3,126.4 L207.8,125.9 L208.3,125.5 L208.8,125.0 L209.3,124.5 L209.8,123.9 L210.3,123.4 L210.8,122.8 L211.3,122.2 L211.8,121.6 L212.3,120.9 L212.8,120.3 L213.3,119.6 L213.8,118.8 L214.3,118.1 L214.8,117.3 L215.3,116.5 L215.8,115.6 L216.3,114.7 L216.8,113.8 L217.3,112.9 L217.8,111.9 L218.3,110.9 L218.8,109.8 L219.3,108.8 L219.8,107.7 L220.3,106.5 L220.8,105.4 L221.3,104.2 L221.8,102.9 L222.3,101.7 L222.8,100.4 L223.3,99.2 L223.8,97.9 L224.3,96.6 L224.8,95.4 L225.3,94.1 L225.8,92.9 L226.3,91.7 L226.8,90.5 L227.3,89.5 L227.8,88.4 L228.3,87.5 L228.8,86.6 L229.3,85.8 L229.8,85.1 L230.3,84.5 L230.8,84.1 L231.3,83.7 L231.8,83.5 L232.3,83.3 L232.8,83.3 L233.3,83.4 L233.8,83.9 L234.3,84.6 L234.8,85.5 L235.3,86.6 L235.8,87.9 L236.3,89.3 L236.8,90.8 L237.3,92.4 L237.8,94.0 L238.3,95.7 L238.8,97.4 L239.3,99.0 L239.8,100.7 L240.3,102.4 L240.8,104.1 L241.3,105.7 L241.8,107.3 L242.3,108.9 L242.8,110.5 L243.3,112.0 L243.8,113.5 L244.3,115.0 L244.8,116.4 L245.3,117.8 L245.8,119.1 L246.3,120.4 L246.8,121.7 L247.3,122.8 L247.8,123.9 L248.3,125.0 L248.8,126.0 L249.3,126.9 L249.8,127.7 L250.3,128.5 L250.8,129.2 L251.3,129.8 L251.8,130.4 L252.3,130.9 L252.8,131.4 L253.3,131.9 L253.8,132.2 L254.3,132.6 L254.8,132.9 L255.3,133.2 L255.8,133.4 L256.3,133.7 L256.8,133.9 L257.3,134.0 L257.8,134.2 L258.3,134.4 L258.8,134.5 L259.3,134.6 L259.8,134.7 L260.3,134.8 L260.8,134.9 L261.3,135.0 L261.8,135.0 L262.3,135.1 L262.8,135.1 L263.3,135.2 L263.8,135.2 L264.3,135.3 L264.8,135.3 L265.3,135.3 L265.8,135.4 L266.3,135.4 L266.8,135.4 L267.3,135.4 L267.8,135.5 L268.3,135.5 L268.8,135.5 L269.3,135.5 L269.8,135.5" fill="none" stroke="#ff8000" stroke-width="2.3" stroke-linecap="butt" stroke-linejoin="round"/>
<text transform="translate(30.89,23.48) scale(0.1534,0.1169)" font-size="100" fill="#000" stroke="#000" stroke-width="1.11">0.6</text>
<text transform="translate(30.89,61.68) scale(0.1523,0.1169)" font-size="100" fill="#000" stroke="#000" stroke-width="1.11">0.4</text>
<text transform="translate(30.68,101.18) scale(0.1562,0.1169)" font-size="100" fill="#000" stroke="#000" stroke-width="1.10">0.2</text>
<text transform="translate(30.68,139.39) scale(0.1550,0.1127)" font-size="100" fill="#000" stroke="#000" stroke-width="1.12">0.0</text>
<text transform="translate(45.27,150.38) scale(0.1577,0.1169)" font-size="100" fill="#000" stroke="#000" stroke-width="1.09">0.9</text>
<text transform="translate(144.72,150.38) scale(0.1480,0.1169)" font-size="100" fill="#000" stroke="#000" stroke-width="1.13">1.0</text>
<text transform="translate(242.84,150.50) scale(0.1444,0.1203)" font-size="100" fill="#000" stroke="#000" stroke-width="1.13">1.1</text>
<text transform="translate(132.76,165.12) scale(0.1554,0.1181)" font-size="100" fill="#000" stroke="#000" stroke-width="1.10">Frequency (THz)</text>
<text transform="translate(25.69,120.92) scale(0.1245,0.1108) rotate(-90)" font-size="100" fill="#000" stroke="#000" stroke-width="1.28">Transmission (a.u.)</text>
<text transform="translate(7.04,14.10) scale(0.1264,0.1000)" font-size="100" fill="#000">(a)</text>
<line x1="248.50" y1="3.75" x2="271.60" y2="3.75" stroke="#000" stroke-width="2.0" stroke-linecap="butt"/>
<line x1="248.50" y1="11.90" x2="271.60" y2="11.90" stroke="#00ff00" stroke-width="2.2" stroke-linecap="butt" stroke-dasharray="4,8.3"/>
<line x1="248.50" y1="20.70" x2="271.60" y2="20.70" stroke="#0000ff" stroke-width="2.4" stroke-linecap="butt" stroke-dasharray="13,4.6,3.7,10"/>
<line x1="248.50" y1="29.40" x2="271.60" y2="29.40" stroke="#00ffff" stroke-width="2.4" stroke-linecap="butt" stroke-dasharray="9.7,5.1,3.4,10"/>
<line x1="248.50" y1="37.90" x2="271.60" y2="37.90" stroke="#ff00ff" stroke-width="2.4" stroke-linecap="butt" stroke-dasharray="5.5,4.2"/>
<line x1="248.50" y1="46.20" x2="271.60" y2="46.20" stroke="#ffff00" stroke-width="2.2" stroke-linecap="butt" stroke-dasharray="8,3.4,2.3,2.8,8"/>
<line x1="248.50" y1="55.50" x2="271.60" y2="55.50" stroke="#ff8000" stroke-width="2.2" stroke-linecap="butt"/>
<line x1="285.90" y1="3.75" x2="297.10" y2="3.75" stroke="#ff0000" stroke-width="2.3" stroke-linecap="butt"/>
<line x1="305.20" y1="3.75" x2="307.20" y2="3.75" stroke="#ff0000" stroke-width="2.3" stroke-linecap="butt"/>
<text transform="translate(275.47,6.20) scale(0.1164,0.0696)" font-size="100" fill="#000" stroke="#000" stroke-width="1.61">M</text>
<text transform="translate(307.67,6.20) scale(0.1161,0.0696)" font-size="100" fill="#000" stroke="#000" stroke-width="1.62">MD</text>
<text transform="translate(273.25,14.44) scale(0.0931,0.0649)" font-size="100" fill="#000" stroke="#000" stroke-width="1.90">MDGraEf=0.1eV</text>
<text transform="translate(273.25,22.74) scale(0.0931,0.0649)" font-size="100" fill="#000" stroke="#000" stroke-width="1.90">MDGraEf=0.2eV</text>
<text transform="translate(273.25,31.04) scale(0.0931,0.0649)" font-size="100" fill="#000" stroke="#000" stroke-width="1.90">MDGraEf=0.3eV</text>
<text transform="translate(273.25,39.34) scale(0.0931,0.0649)" font-size="100" fill="#000" stroke="#000" stroke-width="1.90">MDGraEf=0.5eV</text>
<text transform="translate(273.25,47.94) scale(0.0931,0.0649)" font-size="100" fill="#000" stroke="#000" stroke-width="1.90">MDGraEf=0.6eV</text>
<text transform="translate(274.53,58.61) scale(0.0908,0.0686)" font-size="100" fill="#000" stroke="#000" stroke-width="1.88">&#916;T (T<tspan font-size="58" dy="32">Ef0.1eV</tspan><tspan dy="-32">-T</tspan><tspan font-size="58" dy="32">Ef0.6eV</tspan><tspan dy="-32">)</tspan></text>
<rect x="54.1" y="181.2" width="253.50" height="146.40" fill="none" stroke="#4a4a4a" stroke-width="1.2"/>
<line x1="54.10" y1="202.40" x2="57.50" y2="202.40" stroke="#4a4a4a" stroke-width="1" stroke-linecap="butt"/>
<line x1="54.10" y1="233.70" x2="56.10" y2="233.70" stroke="#4a4a4a" stroke-width="1" stroke-linecap="butt"/>
<line x1="54.10" y1="265.00" x2="57.50" y2="265.00" stroke="#4a4a4a" stroke-width="1" stroke-linecap="butt"/>
<line x1="54.10" y1="296.30" x2="56.10" y2="296.30" stroke="#4a4a4a" stroke-width="1" stroke-linecap="butt"/>
<line x1="54.10" y1="327.60" x2="57.50" y2="327.60" stroke="#4a4a4a" stroke-width="1" stroke-linecap="butt"/>
<line x1="307.60" y1="317.20" x2="304.40" y2="317.20" stroke="#4a4a4a" stroke-width="1" stroke-linecap="butt"/>
<line x1="307.60" y1="283.40" x2="305.60" y2="283.40" stroke="#4a4a4a" stroke-width="1" stroke-linecap="butt"/>
<line x1="307.60" y1="249.60" x2="304.40" y2="249.60" stroke="#4a4a4a" stroke-width="1" stroke-linecap="butt"/>
<line x1="307.60" y1="215.80" x2="305.60" y2="215.80" stroke="#4a4a4a" stroke-width="1" stroke-linecap="butt"/>
<line x1="54.10" y1="327.60" x2="54.10" y2="324.60" stroke="#4a4a4a" stroke-width="1" stroke-linecap="butt"/>
<line x1="102.90" y1="327.60" x2="102.90" y2="325.60" stroke="#4a4a4a" stroke-width="1" stroke-linecap="butt"/>
<line x1="151.70" y1="327.60" x2="151.70" y2="324.60" stroke="#4a4a4a" stroke-width="1" stroke-linecap="butt"/>
<line x1="200.50" y1="327.60" x2="200.50" y2="325.60" stroke="#4a4a4a" stroke-width="1" stroke-linecap="butt"/>
<line x1="249.30" y1="327.60" x2="249.30" y2="324.60" stroke="#4a4a4a" stroke-width="1" stroke-linecap="butt"/>
<line x1="298.10" y1="327.60" x2="298.10" y2="325.60" stroke="#4a4a4a" stroke-width="1" stroke-linecap="butt"/>
<path d="M54.70,210.50 Q180.85,209.35 307.00,208.20" fill="none" stroke="#00ff00" stroke-width="2.1" stroke-dasharray="3.8,8.8" stroke-dashoffset="10.50"/>
<path d="M54.70,219.40 Q180.85,216.85 307.00,214.30" fill="none" stroke="#0000ff" stroke-width="2.2" stroke-dasharray="12.7,5.3,3.6,5.4" stroke-dashoffset="18.80"/>
<path d="M54.70,227.80 Q180.85,223.95 307.00,220.10" fill="none" stroke="#00ffff" stroke-width="2.2" stroke-dasharray="12.7,5.3,3.6,5.4" stroke-dashoffset="18.80"/>
<path d="M54.70,245.40 Q180.85,237.10 307.00,232.00" fill="none" stroke="#ff00ff" stroke-width="2.1" stroke-dasharray="5.6,4.05" stroke-dashoffset="3.55"/>
<path d="M54.70,254.60 Q180.85,243.90 307.00,238.80" fill="none" stroke="#ffff00" stroke-width="2.1" stroke-dasharray="8.6,3.0,2.0,3.2" stroke-dashoffset="16.40"/>
<path d="M54.70,260.20 Q180.85,276.20 307.00,286.60" fill="none" stroke="#ffff00" stroke-width="2.1" stroke-dasharray="8.6,3.0,2.0,3.2" stroke-dashoffset="1.60"/>
<path d="M54.70,269.40 Q180.85,284.00 307.00,291.80" fill="none" stroke="#ff00ff" stroke-width="2.1" stroke-dasharray="5.6,4.05" stroke-dashoffset="5.25"/>
<path d="M54.70,288.80 Q180.85,297.40 307.00,302.40" fill="none" stroke="#00ffff" stroke-width="2.2" stroke-dasharray="12.7,5.3,3.6,5.4" stroke-dashoffset="24.60"/>
<path d="M54.70,298.80 Q180.85,304.80 307.00,307.60" fill="none" stroke="#0000ff" stroke-width="2.2" stroke-dasharray="12.7,5.3,3.6,5.4" stroke-dashoffset="18.80"/>
<path d="M54.70,308.40 Q180.85,310.85 307.00,312.50" fill="none" stroke="#00ff00" stroke-width="2.1" stroke-dasharray="3.8,8.8" stroke-dashoffset="10.50"/>
<ellipse cx="264.6" cy="223.1" rx="6.1" ry="20.9" fill="none" stroke="#000" stroke-width="1.3"/>
<ellipse cx="203.3" cy="294.3" rx="6.1" ry="21.1" fill="none" stroke="#000" stroke-width="1.3"/>
<line x1="232.00" y1="201.90" x2="265.50" y2="201.90" stroke="#000" stroke-width="1.0" stroke-linecap="butt"/>
<path d="M224.8,201.9 L233.5,199.6 L233.5,204.2 Z" fill="#000"/>
<line x1="203.00" y1="273.30" x2="241.00" y2="273.30" stroke="#000" stroke-width="1.0" stroke-linecap="butt"/>
<path d="M248.6,273.3 L240,271.0 L240,275.6 Z" fill="#000"/>
<line x1="64.10" y1="185.90" x2="85.70" y2="185.90" stroke="#00ff00" stroke-width="2.0" stroke-linecap="butt" stroke-dasharray="3.6,9.1,3.4,10"/>
<line x1="64.10" y1="194.10" x2="85.70" y2="194.10" stroke="#00ffff" stroke-width="2.0" stroke-linecap="butt" stroke-dasharray="13,5.2,3.4,10"/>
<line x1="64.10" y1="202.30" x2="85.70" y2="202.30" stroke="#ffff00" stroke-width="2.0" stroke-linecap="butt" stroke-dasharray="8.2,3.6,1.8,3.2,4.7,10"/>
<line x1="122.80" y1="185.80" x2="144.20" y2="185.80" stroke="#0000ff" stroke-width="2.0" stroke-linecap="butt" stroke-dasharray="12.7,5.5,3.2,10"/>
<line x1="120.10" y1="193.80" x2="141.90" y2="193.80" stroke="#ff00ff" stroke-width="2.0" stroke-linecap="butt" stroke-dasharray="5.4,4.1,5.5,4.1,2.7,10"/>
<text transform="translate(87.31,188.14) scale(0.0867,0.0649)" font-size="100" fill="#141414">Ef0.1eV</text>
<text transform="translate(87.31,196.44) scale(0.0867,0.0622)" font-size="100" fill="#141414">Ef0.3eV</text>
<text transform="translate(87.31,204.34) scale(0.0867,0.0608)" font-size="100" fill="#141414">Ef0.6eV</text>
<text transform="translate(145.29,188.14) scale(0.0885,0.0649)" font-size="100" fill="#141414">Ef0.2eV</text>
<text transform="translate(143.59,195.94) scale(0.0885,0.0622)" font-size="100" fill="#141414">Ef0.5eV</text>
<text transform="translate(40.64,205.88) scale(0.1646,0.1239)" font-size="100" fill="#000" stroke="#000" stroke-width="1.04">0</text>
<text transform="translate(4.16,271.66) scale(0.1601,0.1386)" font-size="100" fill="#000" stroke="#000" stroke-width="1.00">-3x10<tspan font-size="62" dy="-45">6</tspan></text>
<text transform="translate(4.16,333.07) scale(0.1601,0.1318)" font-size="100" fill="#000" stroke="#000" stroke-width="1.03">-6x10<tspan font-size="62" dy="-45">6</tspan></text>
<text transform="translate(43.37,342.89) scale(0.1569,0.1127)" font-size="100" fill="#000" stroke="#000" stroke-width="1.11">0.9</text>
<text transform="translate(140.54,342.89) scale(0.1575,0.1127)" font-size="100" fill="#000" stroke="#000" stroke-width="1.11">1.0</text>
<text transform="translate(238.41,343.00) scale(0.1492,0.1159)" font-size="100" fill="#000" stroke="#000" stroke-width="1.13">1.1</text>
<text transform="translate(120.22,358.84) scale(0.1606,0.1170)" font-size="100" fill="#000" stroke="#000" stroke-width="1.08">Frequency (THz)</text>
<text transform="translate(38.44,253.21) scale(0.1416,0.1267) rotate(-90)" font-size="100" fill="#000" stroke="#000" stroke-width="1.12">Re(&#949;<tspan font-size="56" dy="40">m</tspan><tspan dy="-40">)</tspan></text>
<text transform="translate(311.48,185.89) scale(0.1593,0.1148)" font-size="100" fill="#000" stroke="#000" stroke-width="1.09">4x10<tspan font-size="62" dy="-45">6</tspan></text>
<text transform="translate(311.61,253.89) scale(0.1588,0.1136)" font-size="100" fill="#000" stroke="#000" stroke-width="1.10">2x10<tspan font-size="62" dy="-45">6</tspan></text>
<text transform="translate(311.98,321.18) scale(0.1542,0.1155)" font-size="100" fill="#000" stroke="#000" stroke-width="1.11">0</text>
<text transform="translate(336.44,299.23) scale(0.1416,0.1260) rotate(-90)" font-size="100" fill="#000" stroke="#000" stroke-width="1.12">Im(&#949;<tspan font-size="56" dy="40">m</tspan><tspan dy="-40">)</tspan></text>
<text transform="translate(0.22,200.01) scale(0.1300,0.1043)" font-size="100" fill="#000">(b)</text>
</svg>
</body></html>
